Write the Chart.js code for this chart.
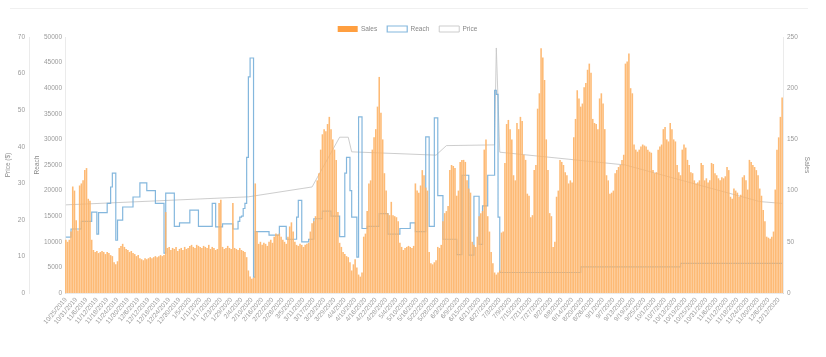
<!DOCTYPE html>
<html><head><meta charset="utf-8">
<script src="https://cdn.jsdelivr.net/npm/chart.js@4.4.1/dist/chart.umd.min.js"></script>
<style>
html,body{margin:0;padding:0;background:#fff;}
#wrap{position:relative;width:826px;height:357px;overflow:hidden;}
#topline{position:absolute;left:10px;top:8px;width:798px;height:0;border-top:1px solid #f0f0f0;}
canvas{position:absolute;left:0;top:0;}
</style></head><body>
<div id="wrap"><div id="topline"></div><canvas id="c" width="826" height="357"></canvas></div>
<script>
// Daily data, starting 10/25/2019
const startYear = 2019, startMonth = 10, startDay = 25;
const labelEvery = 6;

const sales = [
52,50,52,60,104,100,71,61,105,107,
110,120,122,92,90,52,42,40,41,39,
40,41,40,38,40,39,37,36,30,28,
31,44,46,48,45,43,42,40,41,39,
38,36,37,34,33,32,34,33,34,35,
34,35,36,35,36,37,36,37,79,44,
45,42,44,43,45,41,43,44,42,45,
43,44,46,47,45,44,47,46,45,44,
46,45,44,47,43,45,44,42,43,88,
91,45,43,44,46,44,43,88,44,43,
42,44,42,41,40,35,22,16,14,15,
107,60,48,50,47,49,48,46,50,52,
49,55,58,57,58,55,52,50,48,55,
65,69,60,50,47,46,48,47,45,47,
48,49,60,68,70,75,110,117,140,155,
160,158,165,172,160,150,140,130,79,49,
45,40,38,36,35,30,22,28,33,25,
18,16,20,55,58,80,107,110,140,152,
160,182,211,176,150,117,100,78,76,89,
76,75,74,70,49,45,42,44,45,46,
45,44,46,107,100,98,105,120,115,103,
100,40,29,28,30,32,45,44,47,70,
78,80,85,120,125,124,122,95,100,128,
130,130,128,110,102,98,50,47,45,55,
75,78,80,140,150,75,60,40,29,20,
18,20,22,59,60,127,165,169,160,150,
115,110,166,160,172,168,135,130,97,95,
74,76,120,125,180,195,239,230,208,150,
120,78,75,45,50,94,100,130,128,125,
118,115,107,110,108,152,170,198,190,182,
185,201,205,218,224,215,170,166,165,160,
190,195,185,160,115,110,97,98,100,117,
120,123,125,130,135,224,226,234,200,195,
145,140,138,140,143,145,144,143,140,138,
137,120,117,118,140,143,145,160,162,150,
148,166,160,150,148,125,118,115,140,145,
142,130,125,118,117,110,107,108,110,127,
125,110,112,108,110,127,126,117,115,112,
110,113,112,114,123,120,94,92,102,100,
98,94,96,113,115,110,101,130,128,125,
123,120,115,102,95,81,70,55,54,53,
55,60,101,140,152,172,191
];

const reach = [
10900,10900,10900,12500,12500,12500,12500,12500,12500,14000,
14000,14000,14000,14000,14000,15800,15800,15800,11500,15700,
15700,15700,15700,15700,17500,17500,20700,23400,23400,10300,
14250,14250,14250,16800,16800,16800,16800,16800,16800,18750,
18750,18750,18750,21500,21500,21500,21500,20000,20000,20000,
20000,20000,17500,17500,17500,17500,17500,7800,19500,19500,
19500,19500,19500,13000,13000,13000,13700,13700,13700,13700,
13700,13700,16200,16200,16200,16200,16200,13000,13000,13000,
13000,13000,13000,13000,13000,17500,17500,12900,12900,12900,
12900,13500,13500,13500,13500,13500,13500,12500,12500,12500,
14000,14800,15000,16500,17500,26500,42200,45900,45900,3100,
12000,12000,12000,12000,12000,12000,12000,12000,11300,11300,
11300,11300,11300,11300,13000,13000,13000,13000,10500,10500,
10500,10500,10500,10500,14800,18100,18100,10000,10000,10000,
10000,10500,10500,10500,14500,14500,14500,14500,14500,16000,
16000,16000,16000,16000,15000,15000,15000,15000,15000,11000,
11000,11000,23400,26500,26500,20000,14800,14800,14800,7000,
34400,34400,12600,12600,12600,13000,13000,13000,13000,13000,
13000,13000,15500,15500,15500,15500,15500,11500,11500,11500,
11500,11500,11500,11500,12600,12600,12600,12600,12600,12600,
13700,13700,13700,12000,12000,12000,12000,12000,12000,30500,
30500,13000,13000,13000,34200,34200,19000,19000,19000,10500,
10500,10500,10500,10500,10500,10500,10500,7500,7500,7500,
23000,23000,23000,23000,7400,7400,7400,18900,18900,18900,
9500,9500,17000,17000,17000,23000,23000,23000,23000,39600,
38800,14800,4000,4000,4000,4000,4000,4000,4000,4000,
4000,4000,4000,4000,4000,4000,4000,4000,4000,4000,
4000,4000,4000,4000,4000,4000,4000,4000,4000,4000,
4000,4000,4000,4000,4000,4000,4000,4000,4000,4000,
4000,4000,4000,4000,4000,4000,4000,4000,4000,5100,
5100,5100,5100,5100,5100,5100,5100,5100,5100,5100,
5100,5100,5100,5100,5100,5100,5100,5100,5100,5100,
5100,5100,5100,5100,5100,5100,5100,5100,5100,5100,
5100,5100,5100,5100,5100,5100,5100,5100,5100,5100,
5100,5100,5100,5100,5100,5100,5100,5100,5100,5100,
5100,5100,5100,5100,5100,5100,5100,5800,5800,5800,
5800,5800,5800,5800,5800,5800,5800,5800,5800,5800,
5800,5800,5800,5800,5800,5800,5800,5800,5800,5800,
5800,5800,5800,5800,5800,5800,5800,5800,5800,5800,
5800,5800,5800,5800,5800,5800,5800,5800,5800,5800,
5800,5800,5800,5800,5800,5800,5800,5800,5800,5800,
5800,5800,5800,5800,5800,5800,5800
];

// Price is recorded only on some days (other days have no value)
const priceDays   = [0, 106, 143, 159, 164, 166, 215, 221, 249, 250, 252, 325, 403, 416];
const priceValues = [24.1, 26.3, 29.0, 42.6, 42.6, 38.6, 37.7, 40.3, 40.5, 67, 38.5, 35, 25, 24.5];

const priceTicks = [0, 10, 20, 30, 40, 50, 60, 70];
const reachTicks = [0, 5000, 10000, 15000, 20000, 25000, 30000, 35000, 40000, 45000, 50000];
const salesTicks = [0, 50, 100, 150, 200, 250];

// category labels (one per day)
const labels = sales.map((_, i) => {
  const d = new Date(Date.UTC(startYear, startMonth - 1, startDay + i));
  return (d.getUTCMonth() + 1) + '/' + d.getUTCDate() + '/' + d.getUTCFullYear();
});
const priceData = sales.map(() => null);
priceDays.forEach((k, j) => { priceData[k] = priceValues[j]; });

const FONT = "Arial, 'Liberation Sans', sans-serif";
const tickFont = { family: FONT, size: 6.5 };
const titleFont = { family: FONT, size: 6.5 };
const tickColor = '#9a9a9a';
const borderCfg = { display: true, color: 'rgba(0,0,0,0.08)' };
const noGrid = { display: false, drawTicks: false };

const legendTrim = {
  id: 'legendTrim',
  afterInit(chart) {
    const lg = chart.legend;
    if (!lg) return;
    const fit = lg.fit;
    lg.fit = function () { fit.call(this); this.height -= 5.25; };
  }
};

new Chart(document.getElementById('c'), {
  type: 'bar',
  data: {
    labels: labels,
    datasets: [
      { type: 'bar', label: 'Sales', data: sales, yAxisID: 'ySales',
        backgroundColor: 'rgba(253,178,102,0.9)', borderWidth: 0,
        barPercentage: 1, categoryPercentage: 0.92 },
      { type: 'line', label: 'Reach', data: reach, yAxisID: 'yReach',
        borderColor: 'rgba(110,170,215,0.85)', backgroundColor: '#ffffff',
        borderWidth: 1.2, pointRadius: 0, stepped: true, fill: false },
      { type: 'line', label: 'Price', data: priceData, yAxisID: 'yPrice',
        borderColor: 'rgba(200,200,200,0.9)', backgroundColor: '#ffffff',
        borderWidth: 1, pointRadius: 0, spanGaps: true, fill: false }
    ]
  },
  options: {
    responsive: false,
    animation: false,
    layout: { padding: { top: 15.75, right: 11, left: 0, bottom: 0 } },
    plugins: {
      legend: {
        position: 'top',
        labels: {
          boxWidth: 20, boxHeight: 6, font: { family: FONT, size: 6.5 }, color: '#888', padding: 10,
          generateLabels(chart) {
            const items = Chart.defaults.plugins.legend.labels.generateLabels(chart);
            items.forEach(it => { if (it.datasetIndex === 0) { it.fillStyle = 'rgb(255,159,64)'; } });
            return items;
          }
        }
      },
      tooltip: { enabled: false }
    },
    scales: {
      x: {
        grid: noGrid,
        border: borderCfg,
        ticks: {
          font: tickFont, color: tickColor, maxRotation: 50, minRotation: 50, autoSkip: false, padding: 3,
          callback: (v, i) => (i % labelEvery === 0 ? labels[i] : '')
        },
        afterFit(s) { s.height = 64; }
      },
      yPrice: {
        position: 'left', weight: 2, min: 0, max: 70,
        grid: noGrid, border: borderCfg,
        ticks: { stepSize: 10, font: tickFont, color: tickColor, padding: 4 },
        afterBuildTicks(s) { s.ticks = priceTicks.map(v => ({ value: v })); },
        title: { display: true, text: 'Price ($)', font: titleFont, color: '#888' },
        afterFit(s) { s.width = 29; }
      },
      yReach: {
        position: 'left', weight: 1, min: 0, max: 50000,
        grid: noGrid, border: borderCfg,
        ticks: { stepSize: 5000, font: tickFont, color: tickColor, padding: 3, callback: v => String(v) },
        afterBuildTicks(s) { s.ticks = reachTicks.map(v => ({ value: v })); },
        title: { display: true, text: 'Reach', font: titleFont, color: '#888' },
        afterFit(s) { s.width = 36; }
      },
      ySales: {
        position: 'right', min: 0, max: 250,
        grid: noGrid, border: borderCfg,
        ticks: { stepSize: 50, font: tickFont, color: tickColor, padding: 4 },
        afterBuildTicks(s) { s.ticks = salesTicks.map(v => ({ value: v })); },
        title: { display: true, text: 'Sales', font: titleFont, color: '#888' },
        afterFit(s) { s.width = 32; }
      }
    }
  },
  plugins: [legendTrim]
});
</script>
</body></html>
